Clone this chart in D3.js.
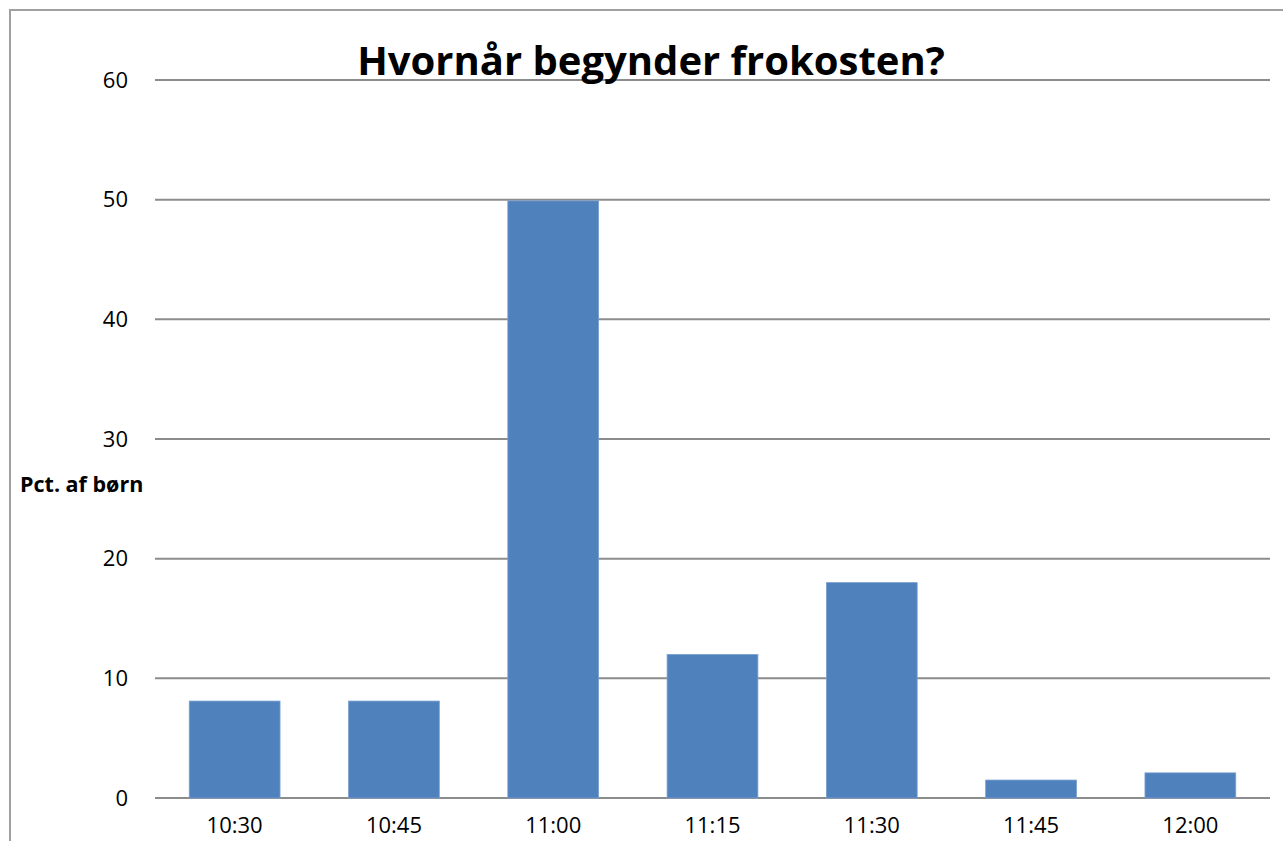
<!DOCTYPE html>
<html>
<head>
<meta charset="utf-8">
<script src="https://cdn.jsdelivr.net/npm/d3@7"></script>
<style>
  body { margin: 0; background: #fff; }
  text { font-family: "Open Sans", "Liberation Sans", sans-serif; fill: #000; }
</style>
</head>
<body>
<div class="barChart"></div>
<script>
// chart data
var categories = ["10:30", "10:45", "11:00", "11:15", "11:30", "11:45", "12:00"];
var values = [8.1, 8.1, 49.9, 12, 18, 1.5, 2.1];
var yTicks = [0, 10, 20, 30, 40, 50, 60];
var title = "Hvornår begynder frokosten?";
var yLabel = "Pct. af børn";

var W = 1283, H = 841;
var margin = {top: 80, right: 13, bottom: 43, left: 155};
var width = W - margin.left - margin.right,
    height = H - margin.top - margin.bottom;

var svg = d3.select(".barChart").append("svg")
    .attr("width", W)
    .attr("height", H);

// outer frame (left and top edges only are visible)
svg.append("path")
    .attr("d", "M10," + H + "V10H" + W)
    .attr("fill", "none")
    .attr("stroke", "#a0a0a0")
    .attr("stroke-width", 2);

var g = svg.append("g")
    .attr("transform", "translate(" + margin.left + "," + margin.top + ")");

var x = d3.scaleBand()
    .domain(categories)
    .range([0, width])
    .paddingInner(0.43)
    .paddingOuter(0.215);

var y = d3.scaleLinear()
    .domain([0, 60])
    .range([height, 0]);

// gridlines
g.selectAll(".grid")
    .data(yTicks)
    .enter().append("line")
    .attr("class", "grid")
    .attr("x1", 0)
    .attr("x2", width)
    .attr("y1", d => y(d))
    .attr("y2", d => y(d))
    .attr("stroke", "#8c8c8c")
    .attr("stroke-width", 2);

// y axis labels
var yAxis = g.append("g")
    .call(d3.axisLeft(y).tickValues(yTicks).tickSize(0).tickPadding(27));
yAxis.select(".domain").remove();
yAxis.selectAll("text")
    .style("font-size", "22px")
    .style("font-family", "'Open Sans', sans-serif")
    .attr("fill", "#000");

// x axis labels (kept just inside the bottom edge)
var xAxis = g.append("g")
    .attr("transform", "translate(0," + height + ")")
    .call(d3.axisBottom(x).tickSize(0).tickPadding(19));
xAxis.select(".domain").remove();
xAxis.selectAll("text")
    .style("font-size", "22px")
    .style("font-family", "'Open Sans', sans-serif")
    .attr("fill", "#000");

// bars
g.selectAll(".bar")
    .data(values)
    .enter().append("rect")
    .attr("class", "bar")
    .attr("x", (d, i) => x(categories[i]))
    .attr("y", d => y(d))
    .attr("width", x.bandwidth())
    .attr("height", d => height - y(d))
    .attr("fill", "#4f81bd")
    .attr("stroke", "#7aa0d0")
    .attr("stroke-width", 0.8);

// title
svg.append("text")
    .attr("x", 651)
    .attr("y", 75)
    .attr("text-anchor", "middle")
    .style("font-size", "40px")
    .style("font-weight", "bold")
    .text(title);

// y axis title
svg.append("text")
    .attr("x", 20)
    .attr("y", 492)
    .style("font-size", "21.5px")
    .style("font-weight", "bold")
    .text(yLabel);
</script>
</body>
</html>
